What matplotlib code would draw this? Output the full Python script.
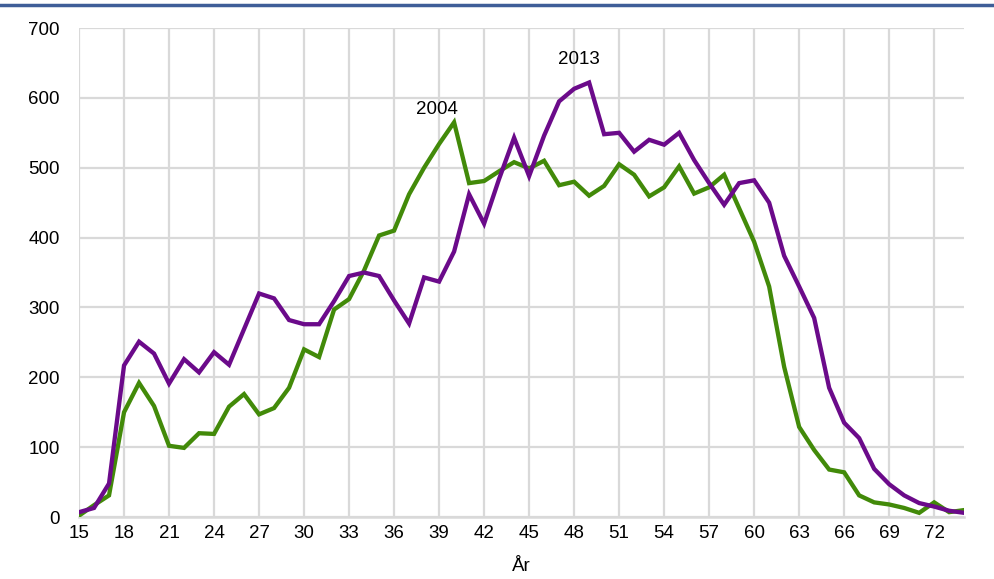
import numpy as np
import matplotlib.pyplot as plt
from matplotlib.lines import Line2D

ages = list(range(15, 75))

y2004 = [2, 17, 31, 150, 192, 159, 102, 99, 120, 119,
         158, 176, 147, 156, 185, 240, 229, 297, 312, 353,
         403, 410, 462, 500, 534, 565, 478, 481, 495, 508,
         499, 510, 475, 480, 460, 474, 505, 490, 459, 472,
         502, 463, 472, 490, 442, 394, 330, 215, 129, 96,
         68, 64, 31, 21, 18, 13, 6, 21, 7, 10]

y2013 = [7, 13, 48, 217, 251, 234, 191, 226, 207, 236,
         218, 269, 320, 313, 282, 276, 276, 309, 345, 350,
         345, 310, 277, 343, 337, 380, 462, 420, 484, 543,
         488, 546, 595, 613, 622, 548, 550, 523, 540, 533,
         550, 511, 478, 447, 478, 482, 450, 374, 330, 285,
         185, 135, 113, 69, 47, 31, 20, 15, 9, 6]

xticks = list(range(15, 73, 3))
yticks = list(range(0, 701, 100))

green = '#428A09'
purple = '#6B0A8A'
grid = '#D9D9D9'
fs = 13.5

plt.rcParams['font.family'] = ['Liberation Sans', 'DejaVu Sans']

fig = plt.figure(figsize=(9.94, 5.79), dpi=100)
ax = fig.add_axes([0.0795, 0.107, 0.8905, 0.8446])

ax.plot(ages, y2004, color=green, lw=3.1, solid_joinstyle='miter', zorder=3)
ax.plot(ages, y2013, color=purple, lw=3.1, solid_joinstyle='miter', zorder=4)

ax.text(38.85, 584, '2004', ha='center', va='center', fontsize=fs)
ax.text(48.3, 655, '2013', ha='center', va='center', fontsize=fs)

ax.set_xlim(15, 74)
ax.set_ylim(0, 700)
ax.set_xticks(xticks)
ax.set_yticks(yticks)
ax.tick_params(length=0, labelsize=fs)
ax.tick_params(axis='y', pad=14)
ax.tick_params(axis='x', pad=6)
ax.grid(True, color=grid, lw=1.6)
ax.set_axisbelow(True)
for s in ['top', 'right', 'left']:
    ax.spines[s].set_visible(False)
ax.spines['bottom'].set_color(grid)
ax.spines['bottom'].set_linewidth(1.8)
ax.set_xlabel('År', fontsize=fs, labelpad=11)

# blue rule across the top
fig.add_artist(Line2D([0.0, 1.0], [0.9915, 0.9915], color='#3F5E98', lw=2.5,
                      transform=fig.transFigure))

fig.savefig('out.png', dpi=100)
